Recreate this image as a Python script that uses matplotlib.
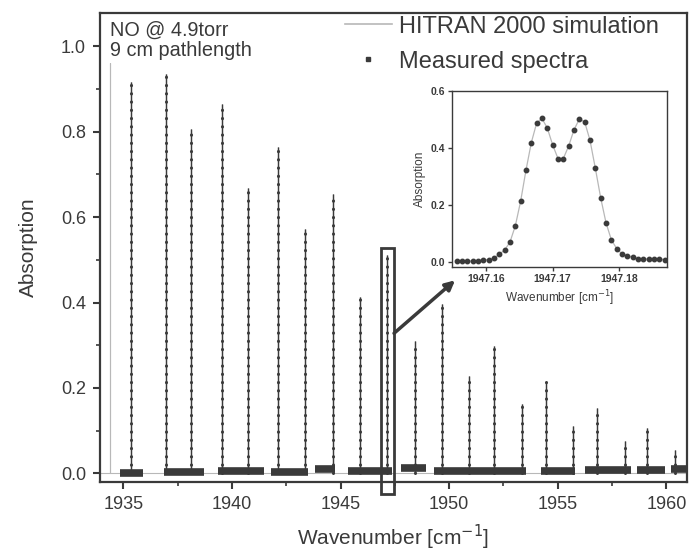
import numpy as np
import matplotlib.pyplot as plt
from matplotlib.lines import Line2D
from matplotlib.patches import Rectangle
from matplotlib.ticker import MultipleLocator, FormatStrFormatter, FixedLocator

plt.rcParams['font.family'] = ['Liberation Sans', 'DejaVu Sans']

# measured line centres [cm-1] and peak absorption
peak_pos = [1935.37, 1936.95, 1938.09, 1939.56, 1940.73, 1942.14, 1943.35,
            1944.66, 1945.89, 1947.15, 1948.42, 1949.65, 1950.91, 1952.06,
            1953.34, 1954.45, 1955.72, 1956.80, 1958.10, 1959.10, 1960.41]
peak_abs = [0.916, 0.934, 0.805, 0.864, 0.667, 0.763, 0.571,
            0.653, 0.413, 0.511, 0.311, 0.397, 0.227, 0.298,
            0.162, 0.215, 0.112, 0.153, 0.077, 0.107, 0.056]

# HITRAN 2000 simulated lines (first one is outside the measured windows)
sim_pos = [1934.37, 1935.37, 1936.95, 1938.09, 1939.56, 1940.73, 1942.14,
           1943.35, 1944.66, 1945.89, 1947.15, 1948.42, 1949.65, 1950.91,
           1952.06, 1953.34, 1954.45, 1955.72, 1956.80, 1958.10, 1959.10,
           1960.41]
sim_abs = [0.96, 0.916, 0.934, 0.805, 0.864, 0.667, 0.763,
           0.571, 0.653, 0.413, 0.511, 0.311, 0.397, 0.227,
           0.298, 0.162, 0.215, 0.112, 0.153, 0.077, 0.107,
           0.056]

# laser scan windows (noisy baseline of the measurement)
seg_start = [1934.86, 1936.88, 1939.35, 1941.81, 1943.84, 1945.33,
             1947.80, 1949.30, 1954.23, 1956.25, 1958.63, 1960.21]
seg_end = [1935.92, 1938.73, 1941.46, 1943.49, 1944.72, 1947.36,
           1948.94, 1953.52, 1955.81, 1958.36, 1959.95, 1961.06]
seg_level = [0.002, 0.004, 0.006, 0.004, 0.010, 0.006,
             0.012, 0.006, 0.006, 0.008, 0.008, 0.010]

# zoom on the line at 1947.17 cm-1
inset_wn = [1947.1556, 1947.1564, 1947.1572, 1947.1580, 1947.1588, 1947.1596,
            1947.1604, 1947.1612, 1947.1620, 1947.1628, 1947.1636, 1947.1644,
            1947.1652, 1947.1660, 1947.1668, 1947.1676, 1947.1684, 1947.1692,
            1947.1700, 1947.1708, 1947.1716, 1947.1724, 1947.1732, 1947.1740,
            1947.1748, 1947.1756, 1947.1764, 1947.1772, 1947.1780, 1947.1788,
            1947.1796, 1947.1804, 1947.1812, 1947.1820, 1947.1828, 1947.1836,
            1947.1844, 1947.1852, 1947.1860, 1947.1868]
inset_abs = [0.002, 0.002, 0.002, 0.002, 0.004, 0.005, 0.007, 0.012,
             0.026, 0.041, 0.069, 0.126, 0.213, 0.322, 0.419, 0.488,
             0.504, 0.470, 0.411, 0.363, 0.363, 0.407, 0.464, 0.502,
             0.492, 0.427, 0.329, 0.225, 0.137, 0.077, 0.046, 0.027,
             0.021, 0.015, 0.011, 0.009, 0.009, 0.009, 0.011, 0.006]

dark = '#3a3a3a'
light = '#b8b8b8'
xmin, xmax = 1933.92, 1960.95

fig = plt.figure(figsize=(6.89, 5.52), dpi=100)
ax = fig.add_axes([0.1451, 0.1268, 0.852, 0.850])

# simulation: flat baseline with line spikes
sx, sy = [xmin], [0.0]
for p, h in zip(sim_pos, sim_abs):
    sx += [p, p, p]
    sy += [0.0, h, 0.0]
sx.append(xmax)
sy.append(0.0)
ax.plot(sx, sy, color=light, lw=0.8, zorder=1)

# measurement
ax.hlines(seg_level, seg_start, seg_end, color=dark, lw=5.5, zorder=2)
ax.vlines(peak_pos, 0, peak_abs, color=dark, lw=1.0, zorder=3)
ax.vlines(peak_pos, 0, peak_abs, color=dark, lw=2.2,
          linestyles=[(0, (0.1, 2.6))], capstyle='round', zorder=3)

ax.set_xlim(xmin, xmax)
ax.set_ylim(-0.02, 1.078)
ax.xaxis.set_major_locator(MultipleLocator(5))
ax.xaxis.set_minor_locator(MultipleLocator(2.5))
ax.yaxis.set_major_locator(MultipleLocator(0.2))
ax.yaxis.set_minor_locator(MultipleLocator(0.1))
ax.yaxis.set_major_formatter(FormatStrFormatter('%.1f'))
ax.tick_params(which='major', direction='out', length=5, width=1.5,
               labelsize=13, pad=5, colors=dark)
ax.tick_params(which='minor', direction='out', length=3, width=1.2, colors=dark)
for s in ax.spines.values():
    s.set_linewidth(1.6)
    s.set_color(dark)

ax.set_xlabel('Wavenumber [cm$^{-1}$]', fontsize=15, color=dark)
ax.set_ylabel('Absorption', fontsize=15, color=dark)
ax.xaxis.set_label_coords(0.5, -0.088)
ax.yaxis.set_label_coords(-0.105, 0.5)

ax.text(0.017, 0.983, 'NO @ 4.9torr\n9 cm pathlength', transform=ax.transAxes,
        ha='left', va='top', fontsize=14.3, linespacing=1.1, color=dark)

handles = [Line2D([], [], color=light, lw=1.2),
           Line2D([], [], ls='none', marker='s', ms=3, color=dark)]
ax.legend(handles, ['HITRAN 2000 simulation', 'Measured spectra'],
          loc='upper left', bbox_to_anchor=(0.417, 0.994), frameon=False,
          fontsize=17, handlelength=2.0, handletextpad=0.3,
          borderaxespad=0, borderpad=0, labelspacing=0.55, labelcolor=dark)

# box around the zoomed line and arrow to the inset
ax.add_patch(Rectangle((1946.84, -0.049), 0.62, 0.577, fill=False, ec=dark,
                       lw=2, clip_on=False, zorder=5))
ax.annotate('', xy=(1950.27, 0.452), xytext=(1947.46, 0.328),
            arrowprops=dict(arrowstyle='-|>', color=dark, lw=2.5,
                            mutation_scale=14, shrinkA=0, shrinkB=0))

ins = fig.add_axes([0.6556, 0.5158, 0.312, 0.320])
ins.plot(inset_wn, inset_abs, color=light, lw=0.9)
ins.plot(inset_wn, inset_abs, ls='none', marker='o', ms=3.2, color=dark)
ins.set_xlim(1947.15486, 1947.1871)
ins.set_ylim(-0.0198, 0.602)
ins.xaxis.set_major_locator(FixedLocator([1947.16, 1947.17, 1947.18]))
ins.xaxis.set_major_formatter(FormatStrFormatter('%.2f'))
ins.yaxis.set_major_locator(MultipleLocator(0.2))
ins.yaxis.set_major_formatter(FormatStrFormatter('%.1f'))
ins.tick_params(direction='out', length=3, width=1, labelsize=7.5, pad=2,
                colors=dark)
for lab in ins.get_xticklabels() + ins.get_yticklabels():
    lab.set_fontweight('bold')
for s in ins.spines.values():
    s.set_linewidth(1.0)
    s.set_color(dark)
ins.set_xlabel('Wavenumber [cm$^{-1}$]', fontsize=8.5, color=dark, labelpad=3)
ins.set_ylabel('Absorption', fontsize=8.5, color=dark, labelpad=3)

fig.savefig('out.png', dpi=100)
